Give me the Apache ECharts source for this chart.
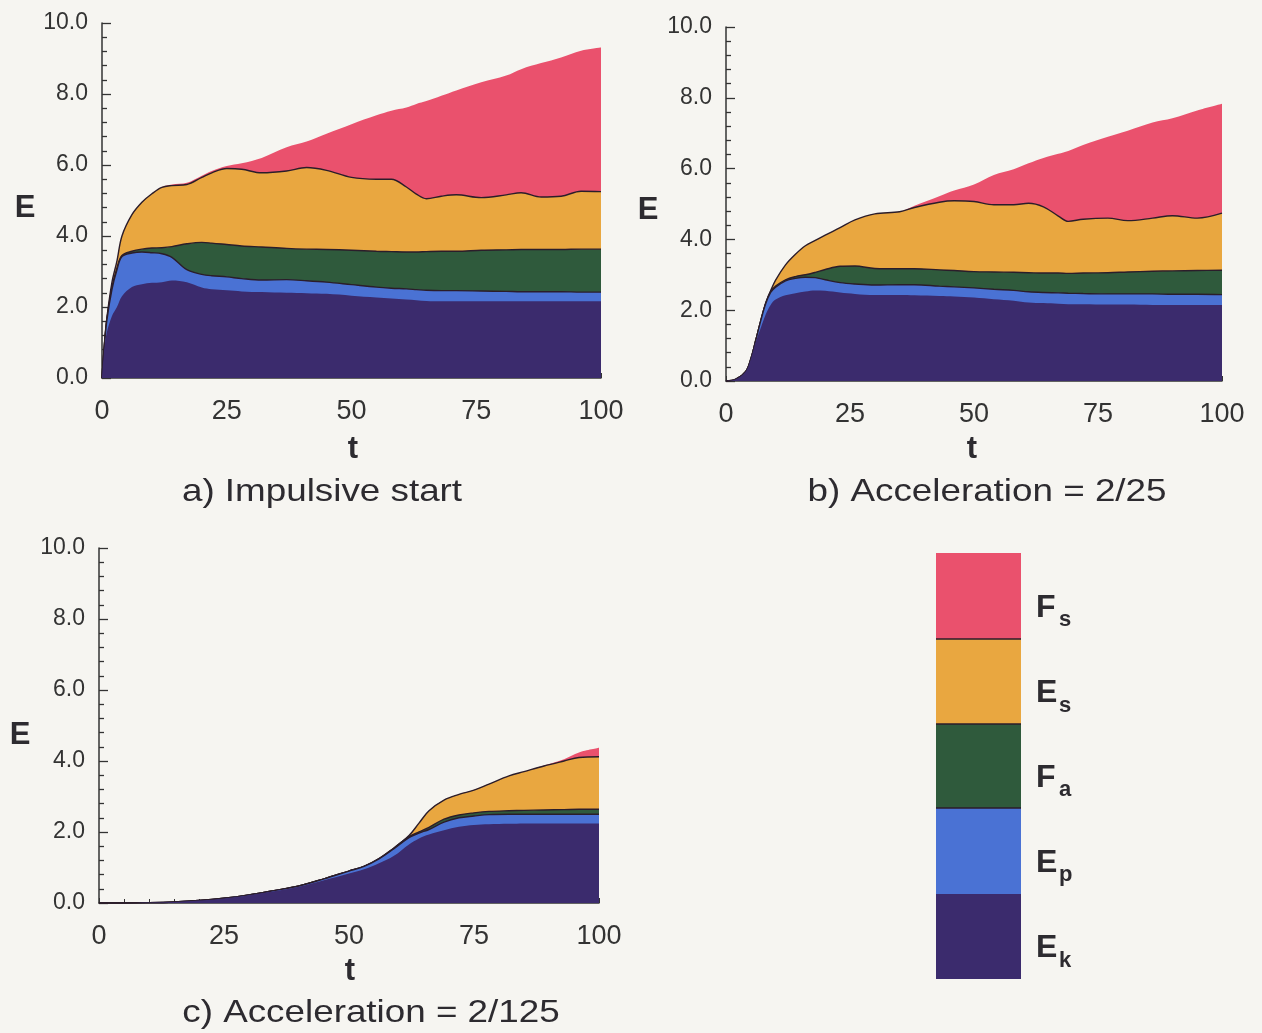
<!DOCTYPE html>
<html>
<head>
<meta charset="utf-8">
<title>Energy components</title>
<script src="https://cdn.jsdelivr.net/npm/echarts@6/dist/echarts.min.js"></script>
<style>
  html, body { margin: 0; padding: 0; background: #f6f5f1; }
  #chart { width: 1262px; height: 1033px; }
</style>
</head>
<body>
<div id="chart"></div>
<script>
// ---- a) impulsive start ----
const tA  = [0,0.5,1,2,3,4,6,8,10,12,14,17,20,22,25,28,32,37,41,45,50,55,58,61,63,65,68,71,76,81,84,88,92,96,100];
const ekA = [0,0.85,1.3,1.75,2.0,2.3,2.56,2.64,2.68,2.7,2.75,2.7,2.55,2.5,2.47,2.44,2.42,2.4,2.39,2.37,2.32,2.27,2.24,2.21,2.19,2.17,2.16,2.16,2.16,2.16,2.16,2.16,2.16,2.16,2.16];
const epA = [0,0.1,0.35,0.75,1.05,1.12,0.96,0.91,0.85,0.8,0.65,0.35,0.37,0.38,0.38,0.36,0.34,0.37,0.35,0.33,0.31,0.29,0.29,0.3,0.3,0.3,0.3,0.3,0.29,0.28,0.27,0.27,0.27,0.26,0.26];
const faA = [0,0.02,0.03,0.05,0.05,0.03,0.05,0.08,0.13,0.17,0.3,0.73,0.9,0.92,0.91,0.92,0.93,0.88,0.89,0.92,0.97,1.01,1.03,1.04,1.06,1.09,1.11,1.11,1.15,1.17,1.19,1.19,1.19,1.21,1.21];
const esA = [0,0.03,0.04,0.15,0.2,0.55,1.03,1.32,1.53,1.7,1.72,1.67,1.83,1.98,2.14,2.16,2.09,2.18,2.3,2.23,2.05,2.03,2.04,1.83,1.63,1.49,1.55,1.59,1.48,1.55,1.6,1.48,1.5,1.63,1.62];
const fsA = [0,0,0,0,0,0,0,0,0,0.01,0.03,0.05,0.05,0.05,0.07,0.17,0.42,0.67,0.73,1.03,1.5,1.8,1.93,2.24,2.54,2.75,2.83,2.94,3.25,3.36,3.48,3.77,3.91,3.96,4.06];

// ---- b) acceleration = 2/25 ----
const tB  = [0,2,4,5,6,7,8,9,10,12,14,16,18,20,23,26,30,35,38,43,46,50,54,58,61,64,67,69,72,77,81,86,90,95,100];
const ekB = [0,0.05,0.27,0.62,1.1,1.5,1.88,2.15,2.3,2.42,2.48,2.53,2.56,2.55,2.5,2.46,2.43,2.43,2.42,2.4,2.39,2.36,2.31,2.27,2.22,2.2,2.18,2.17,2.17,2.16,2.16,2.15,2.15,2.15,2.15];
const epB = [0,0,0,0,0.05,0.2,0.3,0.35,0.35,0.41,0.42,0.4,0.36,0.31,0.28,0.28,0.28,0.29,0.3,0.28,0.27,0.27,0.28,0.29,0.3,0.3,0.31,0.31,0.3,0.3,0.3,0.31,0.3,0.3,0.29];
const faB = [0,0,0,0,0,0,0.02,0.03,0.03,0.03,0.05,0.07,0.15,0.29,0.46,0.51,0.47,0.45,0.45,0.46,0.46,0.46,0.49,0.51,0.54,0.55,0.56,0.56,0.58,0.6,0.62,0.64,0.66,0.67,0.69];
const esB = [0,0,0,0,0,0,0,0.02,0.17,0.42,0.63,0.82,0.9,0.97,1.09,1.3,1.54,1.61,1.73,1.91,1.97,1.98,1.9,1.91,1.96,1.87,1.61,1.47,1.52,1.54,1.45,1.5,1.56,1.48,1.61];
const fsB = [0,0,0,0,0,0,0,0,0,0,0,0,0,0,0,0,0,0,0.05,0.17,0.29,0.48,0.84,1.0,1.13,1.38,1.76,1.99,2.1,2.3,2.54,2.7,2.75,3.04,3.09];

// ---- c) acceleration = 2/125 ----
const tC  = [0,5,10,15,20,25,30,35,40,45,50,53,56,59,62,64,66,69,72,75,78,82,85,89,93,96,100];
const ekC = [0,0.002,0.01,0.03,0.07,0.13,0.22,0.33,0.46,0.64,0.83,0.95,1.12,1.33,1.65,1.82,1.93,2.05,2.15,2.2,2.22,2.23,2.24,2.24,2.24,2.24,2.24];
const epC = [0,0,0,0,0,0.005,0.01,0.02,0.02,0.04,0.07,0.08,0.12,0.2,0.19,0.15,0.14,0.23,0.25,0.25,0.27,0.27,0.26,0.26,0.26,0.26,0.26];
const faC = [0,0,0,0,0,0,0,0,0,0,0,0,0.01,0.02,0.03,0.03,0.06,0.08,0.08,0.09,0.09,0.1,0.11,0.12,0.13,0.14,0.14];
const esC = [0,0,0,0,0,0,0,0,0,0,0,0,0,0,0.03,0.25,0.47,0.54,0.58,0.64,0.77,0.98,1.09,1.24,1.37,1.46,1.48];
const fsC = [0,0,0,0,0,0,0,0,0,0,0,0,0,0,0,0,0,0,0,0,0,0,0,0.01,0.05,0.14,0.25];

// layers from bottom to top
const layerKeys   = ['Ek', 'Ep', 'Fa', 'Es', 'Fs'];
const layerMain   = ['E', 'E', 'F', 'E', 'F'];
const layerSub    = ['k', 'p', 'a', 's', 's'];
const layerColors = ['#3b2b6d', '#4a72d4', '#2f5a3c', '#e9a740', '#ea516d'];
const edgeColor = '#2b1d2a';
const textColor = '#2d2b30';
const FONT = '"Liberation Sans", Arial, Helvetica, sans-serif';

const panels = [
  { t: tA, layers: [ekA, epA, faA, esA, fsA], box: { left: 102, top: 23, width: 499, height: 355 },
    title: 'a) Impulsive start', titlePos: [322, 492], ePos: [25, 208], tPos: [353, 449] },
  { t: tB, layers: [ekB, epB, faB, esB, fsB], box: { left: 726, top: 27, width: 496, height: 354 },
    title: 'b) Acceleration = 2/25', titlePos: [987, 492], ePos: [648, 210], tPos: [972, 449] },
  { t: tC, layers: [ekC, epC, faC, esC, fsC], box: { left: 99, top: 548, width: 500, height: 355 },
    title: 'c) Acceleration = 2/125', titlePos: [371, 1013], ePos: [20, 735], tPos: [350, 971] }
];

const grids = [], xAxes = [], yAxes = [], series = [], graphics = [];

panels.forEach((p, i) => {
  grids.push(Object.assign({ outerBoundsMode: 'none', containLabel: false }, p.box));
  xAxes.push({
    type: 'value', gridIndex: i, min: 0, max: 100, interval: 25,
    axisLine: { show: true, lineStyle: { color: '#333', width: 1.5 } },
    axisTick: { show: true, inside: true, length: 5, lineStyle: { color: '#333' } },
    minorTick: { show: true, splitNumber: 5, length: 4, lineStyle: { color: '#333' } },
    splitLine: { show: false },
    axisLabel: { fontSize: 27, fontFamily: FONT, color: '#333', margin: 20 }
  });
  yAxes.push({
    type: 'value', gridIndex: i, min: 0, max: 10, interval: 2,
    axisLine: { show: true, lineStyle: { color: '#333', width: 1.5 } },
    axisTick: { show: true, inside: true, length: 9, lineStyle: { color: '#333', width: 1.3 } },
    minorTick: { show: true, splitNumber: 5, length: 5, lineStyle: { color: '#333', width: 1.3 } },
    splitLine: { show: false },
    axisLabel: { fontSize: 23, fontFamily: FONT, color: '#333', margin: 14,
                 formatter: v => v.toFixed(1) }
  });

  // running totals: each layer's band sits on top of the layers below it;
  // bands are painted as filled areas from zero, upper totals underneath
  const running = p.t.map(() => 0);
  p.layers.forEach((vals, j) => {
    const top = vals.map((v, k) => (running[k] += v));
    const edged = j >= 1 && j <= 3;
    series.push({
      name: layerKeys[j], type: 'line', xAxisIndex: i, yAxisIndex: i,
      data: p.t.map((t, k) => [t, +top[k].toFixed(4)]),
      symbol: 'none', smooth: 0.35,
      lineStyle: { width: edged ? 1.4 : 0, color: edgeColor },
      areaStyle: { color: layerColors[j], opacity: 1 },
      z: 10 - j,
      silent: true, animation: false
    });
  });

  graphics.push({
    type: 'text', x: p.ePos[0], y: p.ePos[1],
    style: { text: 'E', font: 'bold 31px ' + FONT, fill: textColor, textAlign: 'center', textVerticalAlign: 'middle' }
  });
  graphics.push({
    type: 'text', x: p.tPos[0], y: p.tPos[1],
    style: { text: 't', font: 'bold 31px ' + FONT, fill: textColor, textAlign: 'center', textVerticalAlign: 'middle' }
  });
  graphics.push({
    type: 'text', x: p.titlePos[0], y: p.titlePos[1], scaleX: 1.15,
    style: { text: p.title, font: '32px ' + FONT, fill: textColor, textAlign: 'center', textVerticalAlign: 'middle' }
  });
});

// colour key: stacked swatches, top layer first
const keyLeft = 936, keyWidth = 85;
const keyEdges = [553, 639, 724, 808, 894, 979];
for (let s = 0; s < 5; s++) {
  const j = 4 - s;
  const y0 = keyEdges[s], y1 = keyEdges[s + 1];
  graphics.push({
    type: 'rect', shape: { x: keyLeft, y: y0, width: keyWidth, height: y1 - y0 },
    style: { fill: layerColors[j] }
  });
  if (s < 3) {
    graphics.push({
      type: 'line', shape: { x1: keyLeft, y1: y1, x2: keyLeft + keyWidth, y2: y1 },
      style: { stroke: edgeColor, lineWidth: 1.4 }, z: 5
    });
  }
  const cy = (y0 + y1) / 2 + 12;
  graphics.push({
    type: 'text', x: 1036, y: cy,
    style: { text: layerMain[j], font: 'bold 32px ' + FONT, fill: textColor, textAlign: 'left', textVerticalAlign: 'middle' }
  });
  graphics.push({
    type: 'text', x: 1059, y: cy + 12,
    style: { text: layerSub[j], font: 'bold 22px ' + FONT, fill: textColor, textAlign: 'left', textVerticalAlign: 'middle' }
  });
}

const chart = echarts.init(document.getElementById('chart'), null, { renderer: 'canvas' });
chart.setOption({
  backgroundColor: '#f6f5f1',
  animation: false,
  grid: grids,
  xAxis: xAxes,
  yAxis: yAxes,
  series: series,
  graphic: { elements: graphics }
});
</script>
</body>
</html>
